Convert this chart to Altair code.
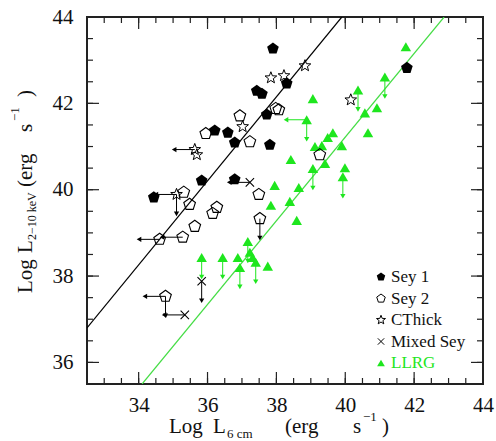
import altair as alt
import pandas as pd

# ---------------- data ----------------
sey1_x = [37.90, 37.43, 37.58, 38.30, 37.72, 36.21, 36.59, 36.79, 37.81, 35.83, 36.79, 34.44, 41.79]
sey1_y = [43.27, 42.29, 42.22, 42.46, 41.74, 41.37, 41.32, 41.09, 41.04, 40.21, 40.24, 39.82, 42.82]

sey2_x = [36.94, 35.95, 37.23, 37.98, 38.07, 35.31, 35.48, 37.49, 36.27, 36.15, 35.63, 34.61, 35.28, 37.52, 34.78, 39.26]
sey2_y = [41.71, 41.30, 41.11, 41.88, 41.85, 39.94, 39.66, 39.89, 39.59, 39.45, 39.15, 38.85, 38.90, 39.33, 37.53, 40.81]
sey2_xlim = [0, 0, 0, 0, 0, 0, 0, 0, 0, 0, 0, 1, 1, 0, 1, 0]
sey2_ylim = [0, 0, 0, 0, 0, 0, 0, 0, 0, 0, 0, 0, 0, 1, 1, 0]

cthick_x = [37.84, 38.22, 38.83, 37.02, 35.63, 35.69, 35.10, 40.16]
cthick_y = [42.59, 42.64, 42.87, 41.46, 40.93, 40.81, 39.89, 42.08]
cthick_xlim = [0, 0, 0, 0, 1, 0, 1, 0]
cthick_ylim = [0, 0, 0, 0, 0, 0, 1, 0]

mixed_x = [37.23, 35.83, 35.34]
mixed_y = [40.17, 37.88, 37.10]
mixed_xlim = [1, 0, 1]
mixed_ylim = [0, 1, 0]

llrg_x = [41.76, 41.15, 40.37, 39.06, 40.92, 40.57, 38.88, 40.66, 39.64, 39.49,
          39.90, 39.12, 39.32, 38.42, 39.41, 39.06, 39.99, 39.93, 37.95, 38.65,
          37.84, 38.39, 38.59, 37.17, 35.83, 36.44, 36.88, 36.94, 37.23, 37.31,
          37.40, 37.75]
llrg_y = [43.31, 42.61, 42.31, 42.11, 41.90, 41.78, 41.62, 41.32, 41.32, 41.21,
          41.02, 41.00, 41.02, 40.70, 40.61, 40.49, 40.51, 40.30, 40.10, 40.05,
          39.64, 39.73, 39.29, 38.80, 38.43, 38.43, 38.43, 38.20, 38.55, 38.43,
          38.32, 38.23]
llrg_xlim = [0, 0, 0, 0, 0, 0, 1, 0, 0, 0, 0, 0, 0, 0, 0, 0, 0, 0, 0, 0,
             0, 0, 0, 0, 0, 0, 0, 0, 0, 0, 0, 0]
llrg_ylim = [0, 1, 1, 0, 0, 0, 1, 0, 0, 0, 0, 0, 0, 0, 0, 1, 0, 1, 0, 0,
             0, 0, 0, 1, 1, 1, 0, 1, 0, 0, 1, 0]

# fitted correlations (end points)
sey_line_x = [32.5, 39.9]
sey_line_y = [36.8, 44.0]
llrg_line_x = [34.1, 42.87]
llrg_line_y = [35.5, 44.0]

x_major = [34, 36, 38, 40, 42, 44]
y_major = [36, 38, 40, 42, 44]
x_minor = [33 + 0.5 * i for i in range(22)]
y_minor = [36 + 0.5 * i for i in range(16)]

legend_labels = ["Sey 1", "Sey 2", "CThick", "Mixed Sey", "LLRG"]

# ---------------- styling ----------------
GREEN = "#1ee61e"
GREEN_LINE = "#45dd45"
FONT = "Liberation Serif"
W, H = 396, 367
XLEN, YLEN = 0.6, 0.45

PENT = "M0,-1L0.951,-0.309L0.588,0.809L-0.588,0.809L-0.951,-0.309Z"
STAR = ("M0,-1L0.247,-0.34L0.951,-0.309L0.399,0.13L0.588,0.809L0,0.42"
        "L-0.588,0.809L-0.399,0.13L-0.951,-0.309L-0.247,-0.34Z")
XSHAPE = "M-1,-1L1,1M-1,1L1,-1"

# ---------------- tables ----------------
def table(name, xs, ys, xl=None, yl=None):
    n = len(xs)
    return pd.DataFrame({
        "x": xs, "y": ys, "type": [name] * n,
        "xlim": xl if xl is not None else [0] * n,
        "ylim": yl if yl is not None else [0] * n,
    })

pts = pd.concat([
    table("Sey 1", sey1_x, sey1_y),
    table("Sey 2", sey2_x, sey2_y, sey2_xlim, sey2_ylim),
    table("CThick", cthick_x, cthick_y, cthick_xlim, cthick_ylim),
    table("Mixed Sey", mixed_x, mixed_y, mixed_xlim, mixed_ylim),
    table("LLRG", llrg_x, llrg_y, llrg_xlim, llrg_ylim),
], ignore_index=True)

arrows = []
for _, r in pts.iterrows():
    col = GREEN if r["type"] == "LLRG" else "black"
    if r["xlim"]:
        arrows.append(dict(x=r["x"], y=r["y"], xe=r["x"] - XLEN, ye=r["y"], dir="left", col=col))
    if r["ylim"]:
        arrows.append(dict(x=r["x"], y=r["y"], xe=r["x"], ye=r["y"] - YLEN, dir="down", col=col))
arr = pd.DataFrame(arrows)

lines = pd.DataFrame({
    "x": sey_line_x + llrg_line_x,
    "y": sey_line_y + llrg_line_y,
    "g": ["sey", "sey", "llrg", "llrg"],
})

xs = alt.Scale(domain=[32.5, 44], nice=False, zero=False)
ys = alt.Scale(domain=[35.5, 44], nice=False, zero=False)
xaxis = alt.Axis(values=x_major, title=None, labelPadding=10, labelFlush=False,
                 labelOverlap=False, format="d", grid=False, ticks=False, domain=False)
yaxis = alt.Axis(values=y_major, title=None, labelPadding=14, labelFlush=False,
                 labelOverlap=False, format="d", grid=False, ticks=False, domain=False)


def X(f):
    return alt.X(f, type="quantitative", scale=xs, axis=xaxis)


def Y(f):
    return alt.Y(f, type="quantitative", scale=ys, axis=yaxis)


layers = []

# correlation lines
layers.append(alt.Chart(lines).mark_line(clip=True, strokeWidth=1.2).encode(
    x=X("x"), y=Y("y"), detail="g:N",
    color=alt.Color("g:N", scale=alt.Scale(domain=["sey", "llrg"], range=["black", GREEN_LINE]), legend=None)))

# limit arrows
layers.append(alt.Chart(arr).mark_rule(strokeWidth=1).encode(
    x=X("x"), y=Y("y"), x2="xe", y2="ye", color=alt.Color("col:N", scale=None)))
layers.append(alt.Chart(arr).mark_point(filled=True, size=28, opacity=1).encode(
    x=X("xe"), y=Y("ye"), color=alt.Color("col:N", scale=None),
    shape=alt.Shape("dir:N", scale=alt.Scale(domain=["left", "down"], range=["triangle-left", "triangle-down"]), legend=None)))

# points
base = alt.Chart(pts)
layers.append(base.transform_filter(alt.datum.type == "LLRG").mark_point(
    shape="triangle-up", filled=True, size=110, color=GREEN, opacity=1).encode(x=X("x"), y=Y("y")))
layers.append(base.transform_filter(alt.datum.type == "Sey 1").mark_point(
    shape=PENT, filled=True, size=150, color="black", opacity=1).encode(x=X("x"), y=Y("y")))
layers.append(base.transform_filter(alt.datum.type == "Sey 2").mark_point(
    shape=PENT, filled=False, size=150, color="black", strokeWidth=1.1, opacity=1).encode(x=X("x"), y=Y("y")))
layers.append(base.transform_filter(alt.datum.type == "CThick").mark_point(
    shape=STAR, filled=False, size=150, color="black", strokeWidth=1, opacity=1).encode(x=X("x"), y=Y("y")))
layers.append(base.transform_filter(alt.datum.type == "Mixed Sey").mark_point(
    shape=XSHAPE, filled=False, size=70, color="black", strokeWidth=1.1, opacity=1).encode(x=X("x"), y=Y("y")))

# inward ticks on all four sides
xmin_df = pd.DataFrame({"v": x_minor})
xmaj_df = pd.DataFrame({"v": x_major[:-1]})
ymin_df = pd.DataFrame({"v": y_minor})
ymaj_df = pd.DataFrame({"v": y_major[:-1]})
for df, L in [(xmin_df, 6), (xmaj_df, 12)]:
    layers.append(alt.Chart(df).mark_rule(color="#222", strokeWidth=1.2).encode(
        x=X("v"), y=alt.value(H), y2=alt.value(H - L)))
    layers.append(alt.Chart(df).mark_rule(color="#222", strokeWidth=1.2).encode(
        x=X("v"), y=alt.value(0), y2=alt.value(L)))
for df, L in [(ymin_df, 6), (ymaj_df, 12)]:
    layers.append(alt.Chart(df).mark_rule(color="#222", strokeWidth=1.2).encode(
        y=Y("v"), x=alt.value(0), x2=alt.value(L)))
    layers.append(alt.Chart(df).mark_rule(color="#222", strokeWidth=1.2).encode(
        y=Y("v"), x=alt.value(W), x2=alt.value(W - L)))

one = pd.DataFrame({"k": [0]})


def txt(s, x, y, size=21, angle=0, color="#111", baseline="alphabetic"):
    return alt.Chart(one).mark_text(text=s, font=FONT, fontSize=size, align="left",
                                    baseline=baseline, angle=angle, color=color).encode(
        x=alt.value(x), y=alt.value(y))


# x-axis title: Log L_{6 cm} (erg s^-1)
layers += [
    txt("Log", 82, 416), txt("L", 126, 416), txt("6 cm", 140, 421, size=13),
    txt("(erg", 198, 416), txt("s", 266, 416), txt("\u22121", 276, 404, size=13),
    txt(")", 295, 416),
]
# y-axis title: Log L_{2-10 keV} (erg s^-1)
layers += [
    txt("Log", -55, 276, angle=270), txt("L", -55, 236, angle=270),
    txt("2\u221210 keV", -51, 223, size=12, angle=270),
    txt("(erg", -55, 170, angle=270), txt("s", -55, 115, angle=270),
    txt("\u22121", -68, 104, size=13, angle=270), txt(")", -55, 80, angle=270),
]

# legend (inside, lower right)
leg_shapes = [
    dict(shape=PENT, filled=True, color="black", size=80),
    dict(shape=PENT, filled=False, color="black", size=80, strokeWidth=1),
    dict(shape=STAR, filled=False, color="black", size=90, strokeWidth=1),
    dict(shape=XSHAPE, filled=False, color="black", size=40, strokeWidth=1),
    dict(shape="triangle-up", filled=True, color=GREEN, size=60),
]
for i, lab in enumerate(legend_labels):
    yy = 260 + 21.5 * i
    layers.append(alt.Chart(one).mark_point(opacity=1, **leg_shapes[i]).encode(
        x=alt.value(294), y=alt.value(yy)))
    layers.append(txt(lab, 304, yy, size=17, color=GREEN if lab == "LLRG" else "#111",
                      baseline="middle"))

chart = alt.layer(*layers).properties(
    width=W, height=H, autosize="none",
    padding={"left": 87, "top": 17, "right": 13, "bottom": 57},
).configure_view(stroke="#222", strokeWidth=2).configure_axis(
    labelFont=FONT, labelFontSize=21, labelColor="#111")

chart.save("out.html", embed_options={"renderer": "svg", "actions": False})
